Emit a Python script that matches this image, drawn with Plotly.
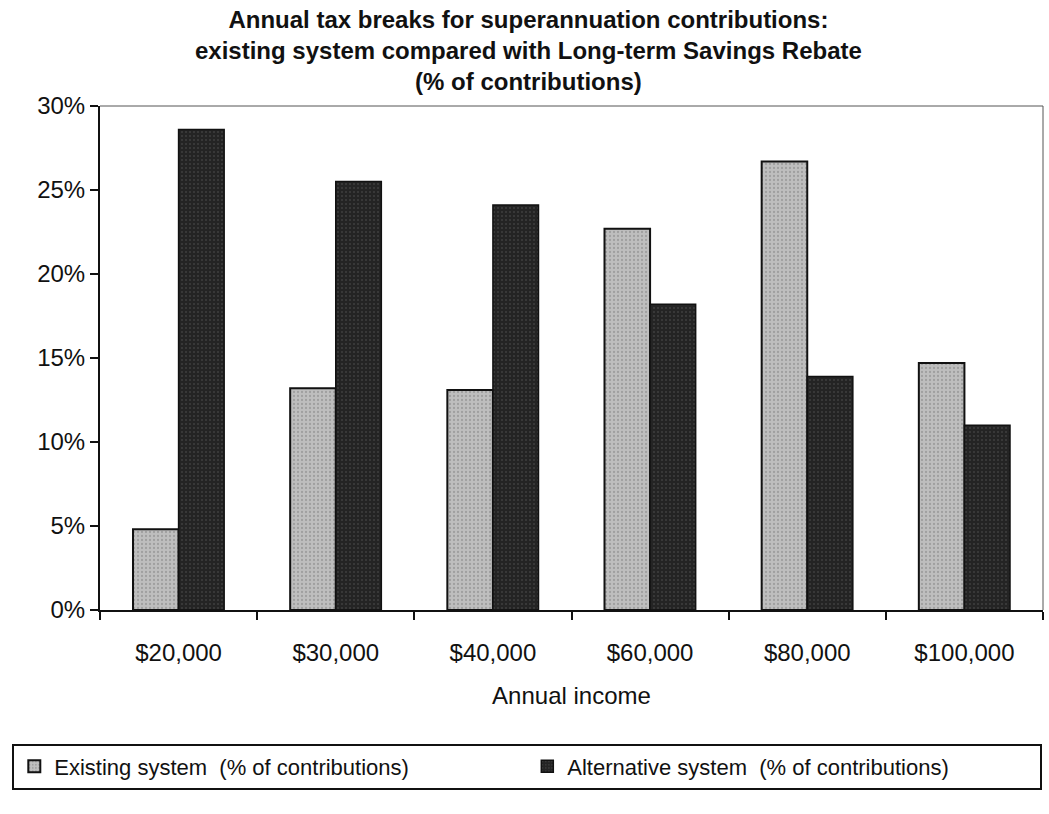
import plotly.graph_objects as go

# Annual income bands on the category axis
incomes = ["$20,000", "$30,000", "$40,000", "$60,000", "$80,000", "$100,000"]

# Tax break as % of contributions under each system
existing_system = [4.8, 13.2, 13.1, 22.7, 26.7, 14.7]
alternative_system = [28.6, 25.5, 24.1, 18.2, 13.9, 11.0]

y_ticks = [0, 5, 10, 15, 20, 25, 30]
y_tick_labels = ["0%", "5%", "10%", "15%", "20%", "25%", "30%"]

FONT = "Liberation Sans, Arial, sans-serif"

fig = go.Figure()
fig.add_bar(
    name="Existing system \u00a0(% of contributions)",
    x=incomes,
    y=existing_system,
    marker=dict(
        color="#b8b8b8",
        line=dict(color="#111111", width=2),
        pattern=dict(shape=".", fgcolor="#808080", bgcolor="#bebebe", size=4, solidity=0.25),
    ),
)
fig.add_bar(
    name="Alternative system \u00a0(% of contributions)",
    x=incomes,
    y=alternative_system,
    marker=dict(
        color="#2a2a2a",
        line=dict(color="#111111", width=1.5),
        pattern=dict(shape=".", fgcolor="#5a5a5a", bgcolor="#242424", size=4, solidity=0.2),
    ),
)

fig.update_layout(
    width=1049,
    height=814,
    paper_bgcolor="white",
    plot_bgcolor="white",
    barmode="group",
    bargap=0.42,
    bargroupgap=0.0,
    font=dict(family=FONT, color="#111111", size=24),
    margin=dict(l=100, r=6, t=106, b=204),
    legend=dict(
        orientation="h",
        x=-0.093,
        xanchor="left",
        y=-0.265,
        yanchor="top",
        bordercolor="#111111",
        borderwidth=2,
        bgcolor="white",
        font=dict(family=FONT, size=22, color="#111111"),
        entrywidth=468,
        entrywidthmode="pixels",
        traceorder="normal",
    ),
    showlegend=True,
)

# chart heading, three centred lines above the plotting area
fig.add_annotation(
    text="<b>Annual tax breaks for superannuation contributions:<br>"
    "existing system compared with Long-term Savings Rebate<br>"
    "(% of contributions)</b>",
    xref="paper", yref="paper",
    x=0.454, y=1,
    xanchor="center", yanchor="bottom",
    yshift=9,
    showarrow=False,
    align="center",
    font=dict(family=FONT, size=24, color="#111111"),
)

fig.update_xaxes(
    type="category",
    showline=True,
    linecolor="#111111",
    linewidth=2,
    ticks="outside",
    tickson="boundaries",
    ticklen=8,
    tickwidth=2,
    tickcolor="#111111",
    showgrid=False,
    tickangle=0,
    tickfont=dict(family=FONT, size=24),
    ticklabelstandoff=20,
    title=dict(text="Annual income", font=dict(family=FONT, size=24), standoff=22),
)
fig.update_yaxes(
    range=[0, 30],
    tickvals=y_ticks,
    ticktext=y_tick_labels,
    showline=True,
    linecolor="#111111",
    linewidth=2,
    ticks="outside",
    ticklen=8,
    tickwidth=2,
    tickcolor="#111111",
    showgrid=False,
    zeroline=False,
    tickfont=dict(family=FONT, size=24),
)

# thin frame along the top and right of the plotting area
fig.add_shape(type="line", xref="paper", yref="paper", x0=0, x1=1, y0=1, y1=1,
              line=dict(color="#555555", width=1))
fig.add_shape(type="line", xref="paper", yref="paper", x0=1, x1=1, y0=0, y1=1,
              line=dict(color="#555555", width=1))

fig.write_html("out.html")
